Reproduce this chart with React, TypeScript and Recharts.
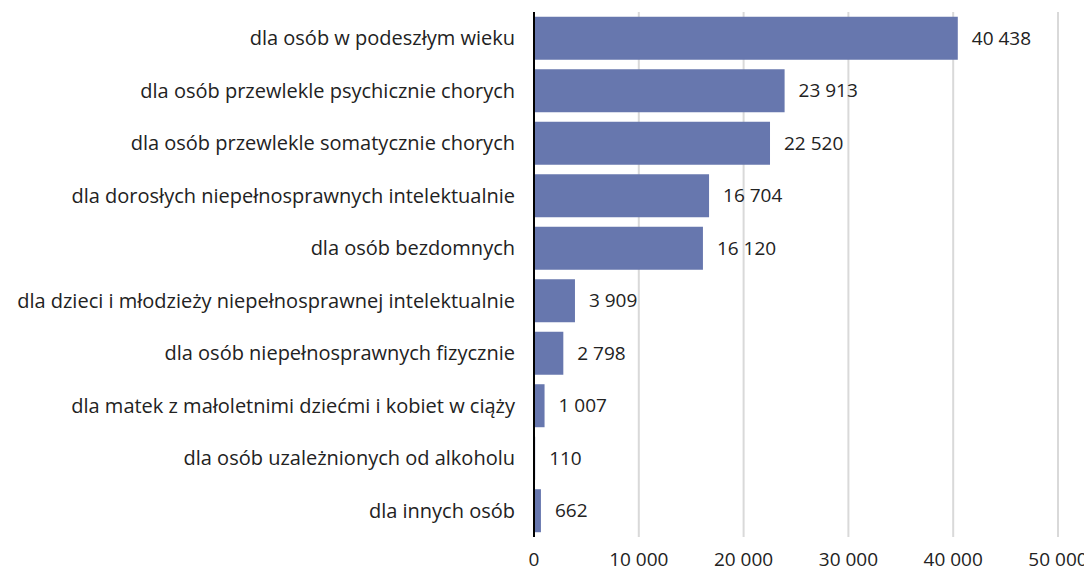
import { BarChart, Bar, XAxis, YAxis, CartesianGrid, LabelList } from 'recharts';

const categories = [
  'dla osób w podeszłym wieku',
  'dla osób przewlekle psychicznie chorych',
  'dla osób przewlekle somatycznie chorych',
  'dla dorosłych niepełnosprawnych intelektualnie',
  'dla osób bezdomnych',
  'dla dzieci i młodzieży niepełnosprawnej intelektualnie',
  'dla osób niepełnosprawnych fizycznie',
  'dla matek z małoletnimi dziećmi i kobiet w ciąży',
  'dla osób uzależnionych od alkoholu',
  'dla innych osób',
];
const values = [40438, 23913, 22520, 16704, 16120, 3909, 2798, 1007, 110, 662];
const xTicks = [0, 10000, 20000, 30000, 40000, 50000];

const data = categories.map((name, i) => ({ name, value: values[i] }));

const fmt = (v: number) => String(v).replace(/\B(?=(\d{3})+(?!\d))/g, ' ');

const font = '"Open Sans", sans-serif';

export default function App() {
  return (
    <div style={{ width: 1084, height: 564, fontFamily: font }}>
      <BarChart
        width={1084}
        height={564}
        data={data}
        layout="vertical"
        margin={{ top: 4, right: 34, bottom: 5, left: 0 }}
        barCategoryGap="9%"
      >
        <CartesianGrid horizontal={false} stroke="#d9d9d9" strokeWidth={2} />
        <XAxis
          type="number"
          domain={[0, 50000]}
          ticks={xTicks}
          tickFormatter={fmt}
          axisLine={false}
          tickLine={false}
          tickSize={0}
          tickMargin={16}
          height={30}
          tick={{ fontSize: 19, fill: '#222', fontFamily: font }}
        />
        <YAxis
          type="category"
          dataKey="name"
          width={526}
          axisLine={{ stroke: '#000', strokeWidth: 2 }}
          tickLine={false}
          tickSize={0}
          tickMargin={19}
          interval={0}
          tick={{ fontSize: 20, fill: '#222', fontFamily: font }}
        />
        <Bar dataKey="value" fill="#6777ae" isAnimationActive={false}>
          <LabelList
            dataKey="value"
            position="right"
            offset={14}
            formatter={(v: any) => fmt(Number(v))}
            style={{ fontSize: 19, fill: '#222', fontFamily: font }}
          />
        </Bar>
      </BarChart>
    </div>
  );
}
